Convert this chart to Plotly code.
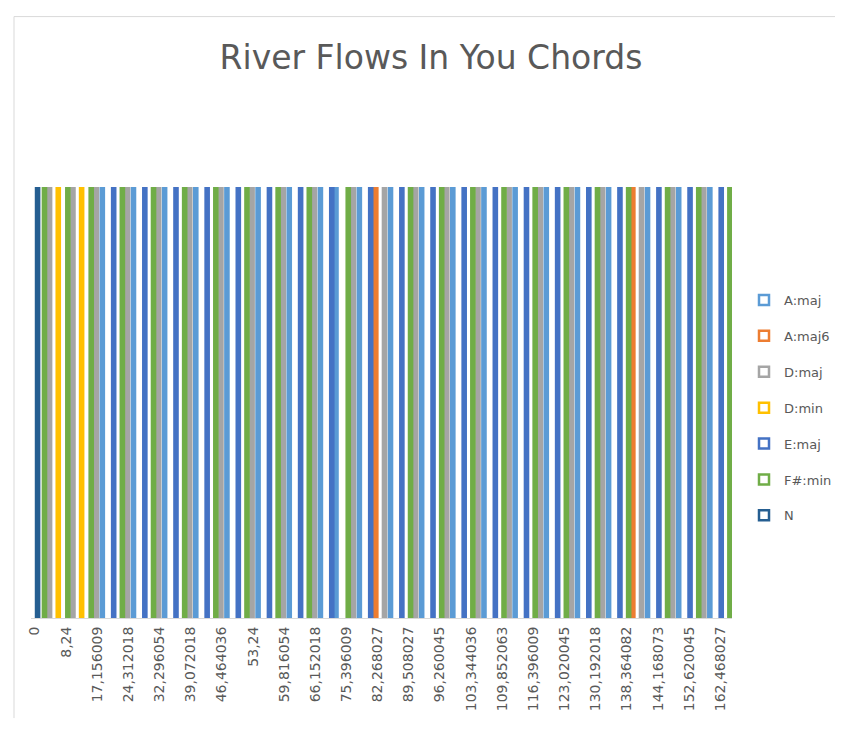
import plotly.graph_objects as go

# chord series (legend order) and Excel default colours
chords = ["A:maj", "A:maj6", "D:maj", "D:min", "E:maj", "F#:min", "N"]
colors = ["#5B9BD5", "#ED7D31", "#A5A5A5", "#FFC000", "#4472C4", "#70AD47", "#255E91"]

# chord of each segment, left to right
sequence = [
    "N", "F#:min", "D:maj", "D:min", "F#:min", "D:maj", "D:min", "F#:min", "D:maj", "A:maj",
    "E:maj", "F#:min", "D:maj", "A:maj", "E:maj", "F#:min", "D:maj", "A:maj", "E:maj", "F#:min",
    "D:maj", "A:maj", "E:maj", "F#:min", "D:maj", "A:maj", "E:maj", "F#:min", "D:maj", "A:maj",
    "E:maj", "F#:min", "D:maj", "A:maj", "E:maj", "F#:min", "D:maj", "A:maj", "E:maj", "A:maj",
    "F#:min", "D:maj", "A:maj", "E:maj", "A:maj6", "D:maj", "A:maj", "E:maj", "F#:min", "D:maj",
    "A:maj", "E:maj", "F#:min", "D:maj", "A:maj", "E:maj", "F#:min", "D:maj", "A:maj", "E:maj",
    "F#:min", "D:maj", "A:maj", "E:maj", "F#:min", "D:maj", "A:maj", "E:maj", "F#:min", "D:maj",
    "A:maj", "E:maj", "F#:min", "D:maj", "A:maj", "E:maj", "F#:min", "A:maj6", "D:maj", "A:maj",
    "E:maj", "F#:min", "D:maj", "A:maj", "E:maj", "F#:min", "D:maj", "A:maj", "E:maj", "F#:min",
]

# start times shown on the axis (every 4th segment)
tick_labels = [
    "0", "8,24", "17,156009", "24,312018", "32,296054", "39,072018", "46,464036",
    "53,24", "59,816054", "66,152018", "75,396009", "82,268027", "89,508027",
    "96,260045", "103,344036", "109,852063", "116,396009", "123,020045",
    "130,192018", "138,364082", "144,168073", "152,620045", "162,468027",
]

# the page has an 8px body margin, so the figure is drawn 16px smaller
W, H = 827, 715
L, R, T, B = 23, 103, 179, 101
bar_w = 0.72      # bar width in category units
step = 0.115      # shift between series slots

fig = go.Figure()
for i, (name, col) in enumerate(zip(chords, colors)):
    xs = [k for k, c in enumerate(sequence) if c == name]
    fig.add_trace(go.Bar(
        x=xs, y=[1] * len(xs), name=name,
        width=bar_w, offset=-(bar_w + 6 * step) / 2 + i * step,
        marker=dict(color=col, line=dict(width=0)),
        showlegend=False, hoverinfo="skip",
    ))

# legend keys (hollow squares like Excel)
for name, col in zip(chords, colors):
    fig.add_trace(go.Scatter(
        x=[None], y=[None], mode="markers", name=name, legendgroup=name,
        marker=dict(symbol="square-open", size=10, color=col, line=dict(width=2.5)),
    ))

pw, ph = W - L - R, H - T - B
def px(x): return (x - L) / pw
def py(y): return (H - B - y) / ph

fig.update_layout(
    width=W, height=H, autosize=False,
    margin=dict(l=L, r=R, t=T, b=B),
    barmode="overlay",
    plot_bgcolor="white", paper_bgcolor="white",
    font=dict(family="DejaVu Sans", color="#595959"),
    title=dict(text="River Flows In You Chords", xref="container", yref="container",
               x=423 / W, y=1 - 49 / H, xanchor="center", yanchor="middle",
               font=dict(family="DejaVu Sans", size=33, color="#595959")),
    xaxis=dict(range=[-0.5, len(sequence) - 0.5],
               tickmode="array", tickvals=list(range(0, len(sequence), 4)), ticktext=tick_labels,
               tickangle=-90, tickfont=dict(size=14, color="#595959"),
               showgrid=False, zeroline=False, showline=True, linecolor="#D9D9D9",
               ticks="", ticklabelstandoff=2),
    yaxis=dict(range=[0, 1], visible=False),
    legend=dict(xref="container", yref="container", x=736 / W, y=1 - 277 / H,
                xanchor="left", yanchor="top", itemwidth=30, tracegroupgap=16,
                font=dict(size=13, color="#595959"), bgcolor="rgba(0,0,0,0)"),
    shapes=[
        dict(type="line", xref="paper", yref="paper", x0=px(6), x1=px(W), y0=py(7), y1=py(7),
             line=dict(color="#D9D9D9", width=1)),
        dict(type="line", xref="paper", yref="paper", x0=px(6), x1=px(6), y0=py(7), y1=py(H),
             line=dict(color="#D9D9D9", width=1)),
    ],
)

fig.write_html("out.html")
